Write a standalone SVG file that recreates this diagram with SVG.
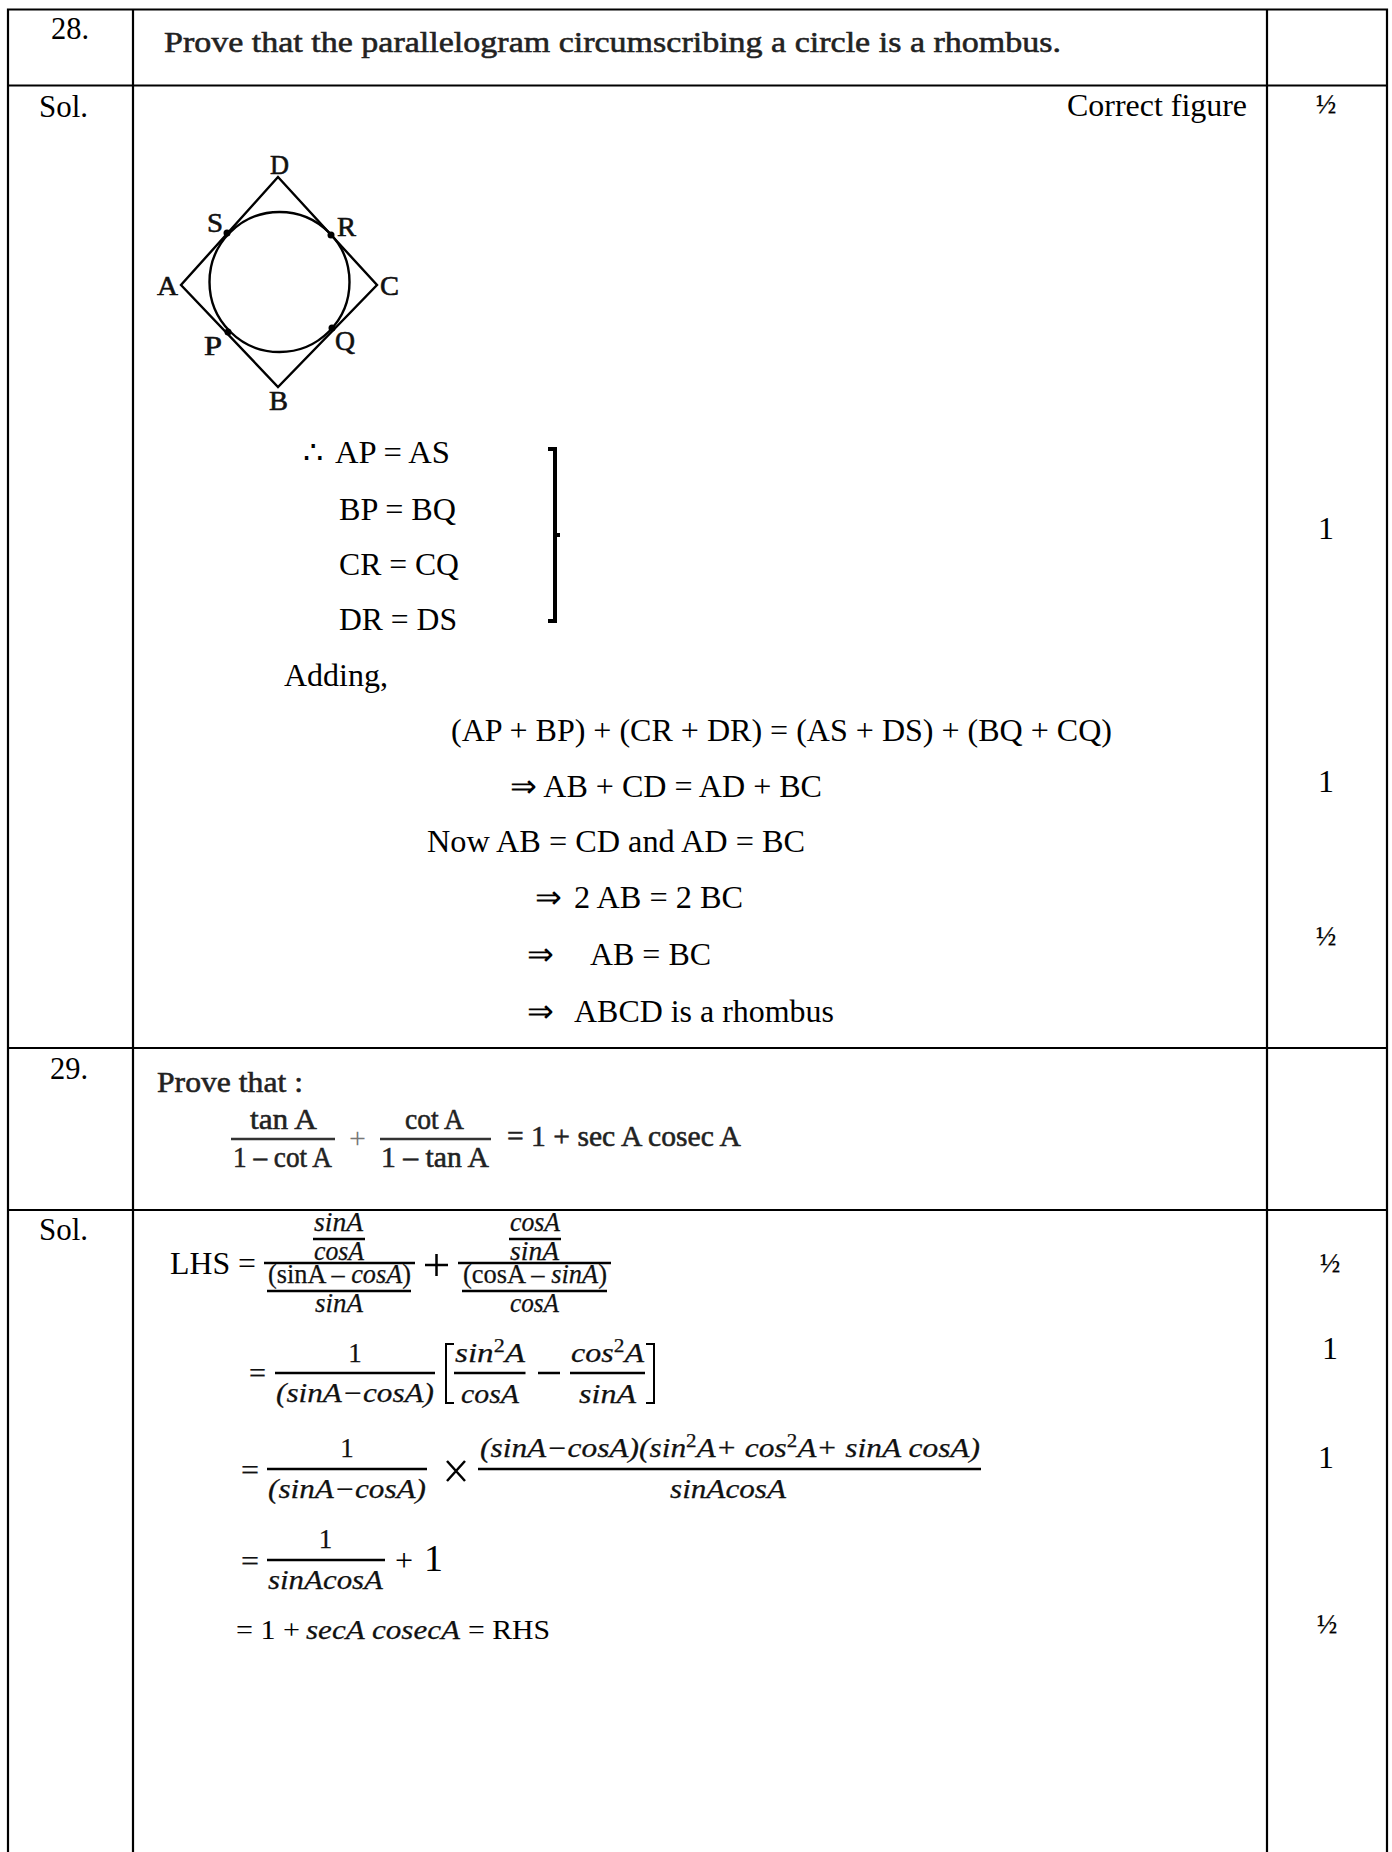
<svg xmlns="http://www.w3.org/2000/svg" width="1392" height="1852" viewBox="0 0 1392 1852">
<style>
text{font-family:"Liberation Serif","Times New Roman",serif;fill:#000}
.b{font-size:32px}
.m{font-size:27px;text-anchor:middle;stroke:#000;stroke-width:.25px}
.h{font-size:30px;fill:#222;stroke:#222;stroke-width:.55px}
.l{font-size:28px;fill:#111;stroke:#111;stroke-width:.6px}
.i{font-size:27px;font-style:italic;fill:#111;stroke:#111;stroke-width:.25px}
.r{font-size:27px;fill:#111;stroke:#111;stroke-width:.25px}
.sp{font-size:18px}
.f{stroke:#000;stroke-width:2.400;fill:none}
.g{stroke:#000;stroke-width:2.600;fill:none}
.t{stroke:#000;stroke-width:2.200;fill:none}
</style>
<rect width="1392" height="1852" fill="#fff"/>
<g id="table">
<path class="t" d="M8 1852V9.500H1387V1852M133 9.500V1852M1267 9.500V1852M8 85.500H1387M8 1048H1387M8 1210H1387"/>
</g>
<g id="labels-left">
<text class="b" x="51" y="39" textLength="38" lengthAdjust="spacingAndGlyphs">28.</text>
<text class="b" x="39" y="117" textLength="49" lengthAdjust="spacingAndGlyphs">Sol.</text>
<text class="b" x="50" y="1079" textLength="38" lengthAdjust="spacingAndGlyphs">29.</text>
<text class="b" x="39" y="1240" textLength="49" lengthAdjust="spacingAndGlyphs">Sol.</text>
</g>
<g id="marks">
<text class="m" x="1326" y="113">½</text>
<text class="b" x="1326" y="539" text-anchor="middle">1</text>
<text class="b" x="1326" y="792" text-anchor="middle">1</text>
<text class="m" x="1326" y="945">½</text>
<text class="m" x="1330" y="1272">½</text>
<text class="b" x="1330" y="1359" text-anchor="middle">1</text>
<text class="b" x="1326" y="1468" text-anchor="middle">1</text>
<text class="m" x="1327" y="1633">½</text>
</g>
<g id="q28">
<text class="h" x="164" y="52" textLength="897" lengthAdjust="spacingAndGlyphs">Prove that the parallelogram circumscribing a circle is a rhombus.</text>
<text class="b" x="1067" y="116" textLength="180" lengthAdjust="spacingAndGlyphs">Correct figure</text>
</g>
<g id="figure">
<path class="f" d="M278 177L377 285L278 387L181 285Z"/>
<ellipse class="f" cx="279.500" cy="282" rx="70" ry="70"/>
<circle cx="227" cy="233" r="3.500"/><circle cx="331" cy="235" r="3.500"/><circle cx="228" cy="332" r="3.500"/><circle cx="332" cy="328" r="3.500"/>
<text class="l" x="270" y="174" textLength="19" lengthAdjust="spacingAndGlyphs">D</text>
<text class="l" x="207" y="232" textLength="16" lengthAdjust="spacingAndGlyphs">S</text>
<text class="l" x="337" y="236" textLength="19" lengthAdjust="spacingAndGlyphs">R</text>
<text class="l" x="157" y="295" textLength="21" lengthAdjust="spacingAndGlyphs">A</text>
<text class="l" x="380" y="295" textLength="19" lengthAdjust="spacingAndGlyphs">C</text>
<text class="l" x="204" y="355" textLength="18" lengthAdjust="spacingAndGlyphs">P</text>
<text class="l" x="335" y="350" textLength="20" lengthAdjust="spacingAndGlyphs">Q</text>
<text class="l" x="269" y="410" textLength="19" lengthAdjust="spacingAndGlyphs">B</text>
</g>
<g id="proof28">
<text class="b" x="303" y="463">∴</text>
<text class="b" x="335" y="463" textLength="115" lengthAdjust="spacingAndGlyphs">AP = AS</text>
<text class="b" x="339" y="520" textLength="117" lengthAdjust="spacingAndGlyphs">BP = BQ</text>
<text class="b" x="339" y="575" textLength="120" lengthAdjust="spacingAndGlyphs">CR = CQ</text>
<text class="b" x="339" y="630" textLength="118" lengthAdjust="spacingAndGlyphs">DR = DS</text>
<path d="M548 449H555V621H548M555 535H560" fill="none" stroke="#000" stroke-width="4"/>
<text class="b" x="284" y="686">Adding,</text>
<text class="b" x="451" y="741" textLength="661" lengthAdjust="spacingAndGlyphs">(AP + BP) + (CR + DR) = (AS + DS) + (BQ + CQ)</text>
<text class="b" x="510" y="797" textLength="312" lengthAdjust="spacingAndGlyphs">⇒ AB + CD = AD + BC</text>
<text class="b" x="427" y="852" textLength="378" lengthAdjust="spacingAndGlyphs">Now AB = CD and AD = BC</text>
<text class="b" x="535" y="908">⇒</text>
<text class="b" x="574" y="908" textLength="169" lengthAdjust="spacingAndGlyphs">2 AB = 2 BC</text>
<text class="b" x="527" y="965">⇒</text>
<text class="b" x="590" y="965" textLength="121" lengthAdjust="spacingAndGlyphs">AB = BC</text>
<text class="b" x="527" y="1022">⇒</text>
<text class="b" x="574" y="1022" textLength="260" lengthAdjust="spacingAndGlyphs">ABCD is a rhombus</text>
</g>
<g id="q29">
<text class="h" x="157" y="1092" textLength="146" lengthAdjust="spacingAndGlyphs">Prove that :</text>
<text class="h" x="250" y="1129" textLength="67" lengthAdjust="spacingAndGlyphs">tan A</text>
<path d="M231 1139H335M380 1139H491" stroke="#333" stroke-width="2.500"/>
<text class="h" x="233" y="1167" textLength="99" lengthAdjust="spacingAndGlyphs">1 – cot A</text>
<text class="h" x="349" y="1148" style="fill:#777;stroke:none">+</text>
<text class="h" x="405" y="1129" textLength="59" lengthAdjust="spacingAndGlyphs">cot A</text>
<text class="h" x="381" y="1167" textLength="108" lengthAdjust="spacingAndGlyphs">1 – tan A</text>
<text class="h" x="507" y="1146" textLength="234" lengthAdjust="spacingAndGlyphs">= 1 + sec A cosec A</text>
</g>
<g id="lhs">
<text class="b" x="170" y="1274" textLength="86" lengthAdjust="spacingAndGlyphs">LHS =</text>
<path class="g" d="M264 1263H415M313 1239H365M267 1291H411M458 1263H611M509 1239H561M462 1291H607"/>
<text class="i" x="314" y="1231" textLength="49" lengthAdjust="spacingAndGlyphs">sinA</text>
<text class="i" x="314" y="1260" textLength="50" lengthAdjust="spacingAndGlyphs">cosA</text>
<text class="r" x="268" y="1283" textLength="143" lengthAdjust="spacingAndGlyphs">(sinA – <tspan font-style="italic">cosA</tspan>)</text>
<text class="i" x="315" y="1312" textLength="48" lengthAdjust="spacingAndGlyphs">sinA</text>
<path d="M425 1265H448M436.500 1254V1276" stroke="#000" stroke-width="2.500"/>
<text class="i" x="510" y="1231" textLength="50" lengthAdjust="spacingAndGlyphs">cosA</text>
<text class="i" x="510" y="1260" textLength="49" lengthAdjust="spacingAndGlyphs">sinA</text>
<text class="r" x="463" y="1283" textLength="144" lengthAdjust="spacingAndGlyphs">(cosA – <tspan font-style="italic">sinA</tspan>)</text>
<text class="i" x="510" y="1312" textLength="49" lengthAdjust="spacingAndGlyphs">cosA</text>
</g>
<g id="eq2">
<text class="r" x="249" y="1383" textLength="17" lengthAdjust="spacingAndGlyphs" style="font-size:30px">=</text>
<path class="g" d="M275 1373H435M454 1373H525.500M570 1373H645M538 1373H560"/>
<text class="r" x="355" y="1362" text-anchor="middle">1</text>
<text class="i" x="276" y="1402" textLength="158" lengthAdjust="spacingAndGlyphs">(sinA−cosA)</text>
<path d="M454 1344H446V1403H454M646 1344H654V1403H646" fill="none" stroke="#000" stroke-width="2"/>
<text class="i" x="455" y="1362" textLength="70" lengthAdjust="spacingAndGlyphs">sin<tspan class="sp" dy="-10" font-style="normal">2</tspan><tspan dy="10">A</tspan></text>
<text class="i" x="461" y="1403" textLength="58" lengthAdjust="spacingAndGlyphs">cosA</text>
<text class="i" x="571" y="1362" textLength="73" lengthAdjust="spacingAndGlyphs">cos<tspan class="sp" dy="-10" font-style="normal">2</tspan><tspan dy="10">A</tspan></text>
<text class="i" x="579" y="1403" textLength="57" lengthAdjust="spacingAndGlyphs">sinA</text>
</g>
<g id="eq3">
<text class="r" x="241" y="1480" textLength="18" lengthAdjust="spacingAndGlyphs" style="font-size:30px">=</text>
<path class="g" d="M267 1469H427M478 1469H981"/>
<text class="r" x="347" y="1457" text-anchor="middle">1</text>
<text class="i" x="268" y="1498" textLength="158" lengthAdjust="spacingAndGlyphs">(sinA−cosA)</text>
<path d="M447 1461L465 1481M465 1461L447 1481" stroke="#000" stroke-width="2.500"/>
<text class="i" x="480" y="1457" textLength="500" lengthAdjust="spacingAndGlyphs">(sinA−cosA)(sin<tspan class="sp" dy="-10" font-style="normal">2</tspan><tspan dy="10">A+ cos</tspan><tspan class="sp" dy="-10" font-style="normal">2</tspan><tspan dy="10">A+ sinA cosA)</tspan></text>
<text class="i" x="670" y="1498" textLength="116" lengthAdjust="spacingAndGlyphs">sinAcosA</text>
</g>
<g id="eq4">
<text class="r" x="241" y="1571" textLength="18" lengthAdjust="spacingAndGlyphs" style="font-size:30px">=</text>
<path class="g" d="M267 1560H385"/>
<text class="r" x="325.500" y="1548" text-anchor="middle">1</text>
<text class="i" x="268" y="1589" textLength="115" lengthAdjust="spacingAndGlyphs">sinAcosA</text>
<text class="b" x="395" y="1571">+</text>
<text class="b" x="424" y="1571" style="font-size:38px">1</text>
</g>
<g id="eq5">
<text class="b" x="236" y="1639" textLength="64" lengthAdjust="spacingAndGlyphs" style="font-size:28px">= 1 +</text>
<text class="i" x="306" y="1639" textLength="154" lengthAdjust="spacingAndGlyphs">secA cosecA</text>
<text class="b" x="468" y="1639" textLength="82" lengthAdjust="spacingAndGlyphs" style="font-size:28px">= RHS</text>
</g>
</svg>
